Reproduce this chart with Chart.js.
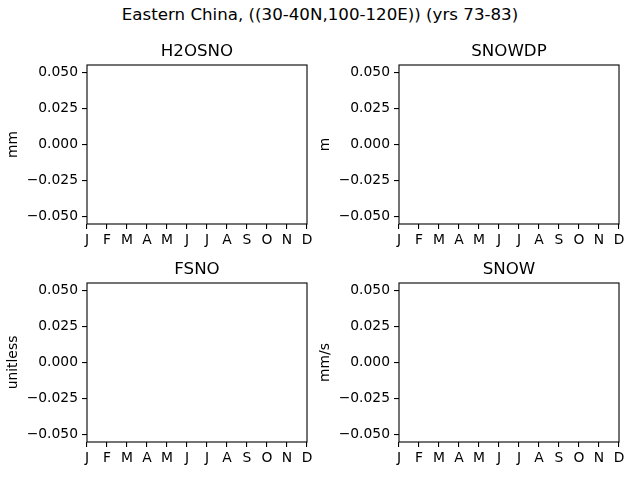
<!DOCTYPE html>
<html>
<head>
<meta charset="utf-8">
<script src="https://cdn.jsdelivr.net/npm/chart.js@4.4.1/dist/chart.umd.min.js"></script>
<style>
  html, body { margin: 0; padding: 0; background: #fff; }
  #fig { position: relative; width: 640px; height: 480px; overflow: hidden; }
  #suptitle {
    position: absolute; left: 0; top: 5px; width: 640px; text-align: center;
    font-family: 'DejaVu Sans', sans-serif; font-size: 16.67px; color: #000;
  }
  .panel { position: absolute; }
</style>
</head>
<body>
<div id="fig">
  <div id="suptitle">Eastern China, ((30-40N,100-120E)) (yrs 73-83)</div>
</div>
<script>
const months    = ['J', 'F', 'M', 'A', 'M', 'J', 'J', 'A', 'S', 'O', 'N', 'D'];
const yTicks    = [-0.05, -0.025, 0, 0.025, 0.05];
const yLimits   = [-0.055, 0.055];
const variables = ['H2OSNO', 'SNOWDP', 'FSNO', 'SNOW'];
const units     = ['mm', 'm', 'unitless', 'mm/s'];

// nothing is plotted in the reference: every monthly value is missing
const h2osno = [null, null, null, null, null, null, null, null, null, null, null, null];
const snowdp = [null, null, null, null, null, null, null, null, null, null, null, null];
const fsno   = [null, null, null, null, null, null, null, null, null, null, null, null];
const snow   = [null, null, null, null, null, null, null, null, null, null, null, null];
const series = [h2osno, snowdp, fsno, snow];

const FONT     = "'DejaVu Sans', sans-serif";
const Y_AXIS_W = 87;
const TITLE_H  = 25;
const PLOT_W   = 220;
const PLOT_H   = 159;
const X_AXIS_H = 30;
const PAD_R    = 12;
const ORIGINS  = [[87, 65], [399, 65], [87, 283], [399, 283]];

function fmtTick(v) {
  const s = Math.abs(v).toFixed(3);
  return v < 0 ? '\u2212' + s : s;
}

// matplotlib draws a frame on all four sides
const framePlugin = {
  id: 'frame',
  afterDraw(chart) {
    const { ctx, chartArea: a } = chart;
    ctx.save();
    ctx.strokeStyle = '#000';
    ctx.lineWidth = 1.1;
    ctx.strokeRect(a.left, a.top, a.right - a.left, a.bottom - a.top);
    ctx.restore();
  },
};

variables.forEach((name, i) => {
  const [ax, ay] = ORIGINS[i];
  const w = Y_AXIS_W + PLOT_W + PAD_R;
  const h = TITLE_H + PLOT_H + X_AXIS_H;

  const div = document.createElement('div');
  div.className = 'panel';
  div.style.left   = (ax - Y_AXIS_W) + 'px';
  div.style.top    = (ay - TITLE_H) + 'px';
  div.style.width  = w + 'px';
  div.style.height = h + 'px';
  const canvas = document.createElement('canvas');
  div.appendChild(canvas);
  document.getElementById('fig').appendChild(div);

  new Chart(canvas, {
    type: 'line',
    data: {
      labels: months,
      datasets: [{
        label: name,
        data: series[i],
        borderColor: '#1f77b4',
        borderWidth: 1.5,
        pointRadius: 0,
        fill: false,
      }],
    },
    options: {
      responsive: true,
      maintainAspectRatio: false,
      animation: false,
      devicePixelRatio: 1,
      layout: { padding: { left: 0, right: PAD_R, top: 0, bottom: 0 } },
      plugins: {
        legend:  { display: false },
        tooltip: { enabled: false },
        title: {
          display: true,
          fullSize: false,   // centre over the plot area, not the canvas
          text: name,
          color: '#000',
          font: { family: FONT, size: 16.67, weight: 'normal', lineHeight: 1.2 },
          padding: { top: 1.5, bottom: 3.5 },
        },
      },
      scales: {
        x: {
          type: 'category',
          offset: false,
          afterFit: (s) => { s.height = X_AXIS_H; },
          grid: {
            drawOnChartArea: false,
            drawTicks: true,
            tickLength: 5,
            color: '#000',
            lineWidth: 1.1,
          },
          border: { display: false },
          ticks: {
            color: '#000',
            font: { family: FONT, size: 13.89 },
            padding: 3,
            maxRotation: 0,
            autoSkip: false,
          },
        },
        y: {
          type: 'linear',
          min: yLimits[0],
          max: yLimits[1],
          afterBuildTicks: (s) => { s.ticks = yTicks.map((v) => ({ value: v })); },
          afterFit: (s) => { s.width = Y_AXIS_W; },
          grid: {
            drawOnChartArea: false,
            drawTicks: true,
            tickLength: 5,
            color: '#000',
            lineWidth: 1.1,
          },
          border: { display: false },
          ticks: {
            color: '#000',
            font: { family: FONT, size: 13.89 },
            padding: 4,
            callback: (v) => fmtTick(v),
          },
          title: {
            display: true,
            text: units[i],
            color: '#000',
            font: { family: FONT, size: 13.89, lineHeight: 1.2 },
            padding: { top: 4.7, bottom: 0 },
          },
        },
      },
    },
    plugins: [framePlugin],
  });
});
</script>
</body>
</html>
